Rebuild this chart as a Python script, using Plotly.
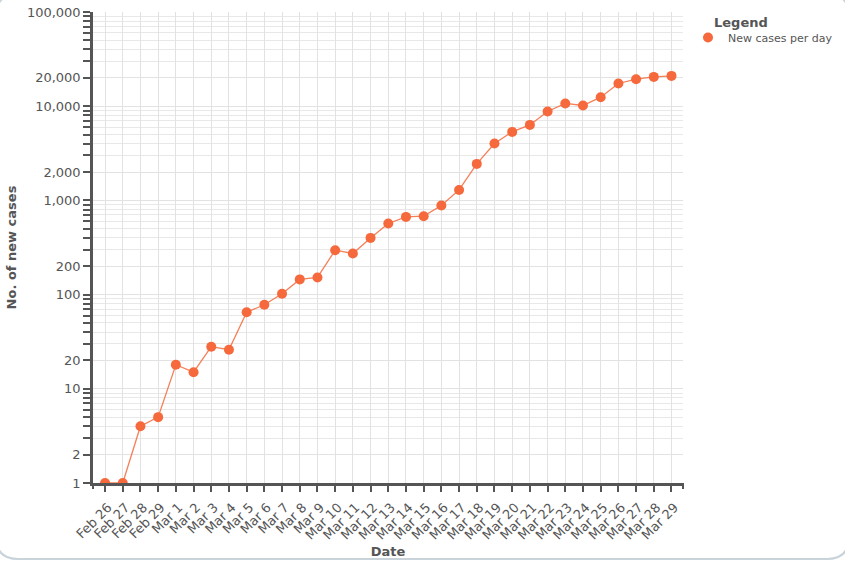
"""
New COVID cases per day, log scale line chart
"""

import plotly.graph_objects as go

# Data
dates = ['Feb 26', 'Feb 27', 'Feb 28', 'Feb 29', 'Mar 1', 'Mar 2', 'Mar 3', 'Mar 4',
         'Mar 5', 'Mar 6', 'Mar 7', 'Mar 8', 'Mar 9', 'Mar 10', 'Mar 11', 'Mar 12',
         'Mar 13', 'Mar 14', 'Mar 15', 'Mar 16', 'Mar 17', 'Mar 18', 'Mar 19', 'Mar 20',
         'Mar 21', 'Mar 22', 'Mar 23', 'Mar 24', 'Mar 25', 'Mar 26', 'Mar 27', 'Mar 28',
         'Mar 29']
new_cases = [1, 1, 4, 5, 18, 15, 28, 26,
             65, 78, 102, 145, 152, 296, 273, 400,
             569, 668, 680, 883, 1292, 2440, 4018, 5335,
             6329, 8790, 10690, 10170, 12470, 17420, 19360, 20470,
             20980]

y_tickvals = [1, 2, 10, 20, 100, 200, 1000, 2000, 10000, 20000, 100000]
y_ticktext = ['1', '2', '10', '20', '100', '200', '1,000', '2,000', '10,000', '20,000', '100,000']
y_minorvals = [k * 10 ** e for e in range(5) for k in range(3, 10)]

W, H = 845, 561
ML, MR, MT, MB = 93, 162, 12, 78
PW, PH = W - ML - MR, H - MT - MB

FONT = 'DejaVu Sans'
GREY = '#555555'
ORANGE = '#f5693c'


def px(x, y):
    """pixel position -> paper coordinates"""
    return (x - ML) / PW, (H - MB - y) / PH


fig = go.Figure()

# connecting line
fig.add_trace(go.Scatter(
    x=dates, y=new_cases,
    mode='lines',
    line=dict(color=ORANGE, width=1.3),
    opacity=0.85,
    showlegend=False,
    hoverinfo='skip',
))

# points
fig.add_trace(go.Scatter(
    x=dates, y=new_cases,
    mode='markers',
    name='New cases per day',
    marker=dict(color=ORANGE, size=10),
))

# rounded frame around the card
x0, y0 = px(-4, -6)
x1, y1 = px(849, 559)
rx, ry = 22 / PW, 22 / PH
frame = (f'M {x0 + rx},{y0} L {x1 - rx},{y0} Q {x1},{y0} {x1},{y0 - ry} '
         f'L {x1},{y1 + ry} Q {x1},{y1} {x1 - rx},{y1} '
         f'L {x0 + rx},{y1} Q {x0},{y1} {x0},{y1 + ry} '
         f'L {x0},{y0 - ry} Q {x0},{y0} {x0 + rx},{y0} Z')
fig.add_shape(type='path', path=frame, xref='paper', yref='paper',
              line=dict(color='#c9d3da', width=2), layer='below')

# outer ticks at both ends of the x axis
for xp in (0, 1):
    fig.add_shape(type='line', xref='paper', yref='paper',
                  x0=xp, x1=xp, y0=0, y1=-6 / PH,
                  line=dict(color=GREY, width=2))

# legend heading as a separate label
lx, ly = px(712, 22)
fig.add_annotation(text='<b>Legend</b>', xref='paper', yref='paper',
                   x=lx, y=ly, xanchor='left', yanchor='middle', showarrow=False,
                   font=dict(size=13, color=GREY))

leg_x, leg_y = px(688, 23)
fig.update_layout(
    width=W, height=H,
    margin=dict(l=ML, r=MR, t=MT, b=MB, autoexpand=False),
    paper_bgcolor='white',
    plot_bgcolor='white',
    font=dict(family=FONT, size=13, color=GREY),
    legend=dict(
        font=dict(size=11, color=GREY),
        x=leg_x, xanchor='left', y=leg_y, yanchor='top',
        bgcolor='rgba(0,0,0,0)',
    ),
)

fig.update_xaxes(
    type='category',
    range=[-0.68, len(dates) - 1 + 0.65],
    tickmode='array', tickvals=dates, ticktext=dates,
    tickangle=-45,
    ticks='outside', ticklen=6, tickwidth=1.5, tickcolor=GREY,
    ticklabelstandoff=3, ticklabelshift=3,
    showline=True, linecolor=GREY, linewidth=2.5,
    showgrid=True, gridcolor='#e2e2e2', gridwidth=1,
    tickfont=dict(size=13, color=GREY),
    title=dict(text='<b>Date</b>', font=dict(size=13, color=GREY), standoff=6),
    zeroline=False,
)

fig.update_yaxes(
    type='log',
    range=[0, 5],
    tickmode='array', tickvals=y_tickvals, ticktext=y_ticktext,
    ticks='outside', ticklen=7, tickwidth=1.5, tickcolor=GREY,
    minor=dict(tickmode='array', tickvals=y_minorvals, ticks='outside', ticklen=7,
               tickwidth=1.5, tickcolor=GREY, showgrid=True, gridcolor='#e8e8e8'),
    showline=True, linecolor=GREY, linewidth=2.5,
    showgrid=True, gridcolor='#e2e2e2', gridwidth=1,
    tickfont=dict(size=13, color=GREY),
    title=dict(text='<b>No. of new cases</b>', font=dict(size=13, color=GREY), standoff=8),
    zeroline=False,
)

# the page keeps the browser's default body margin otherwise
fig.write_html("out.html", config={'displayModeBar': False},
               post_script="document.body.style.margin='0';")
